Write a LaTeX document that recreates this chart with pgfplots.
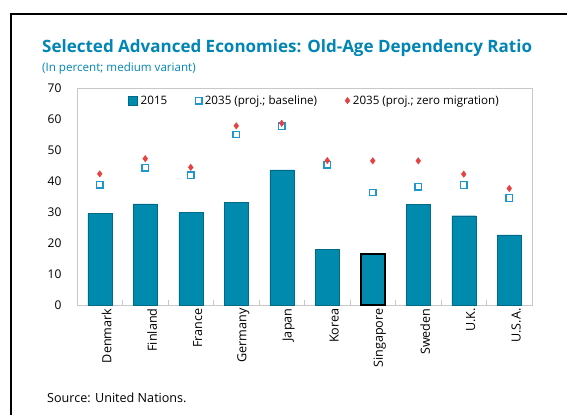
\documentclass[border=0pt]{standalone}
\usepackage{pgfplots}
\pgfplotsset{compat=1.18}
\usepackage{fontspec}
\setmainfont{Open Sans}
\definecolor{titleblue}{RGB}{0,133,180}
\definecolor{barteal}{RGB}{0,139,174}
\definecolor{baredge}{RGB}{0,105,135}
\definecolor{sqblue}{RGB}{30,150,210}
\definecolor{dred}{RGB}{230,64,64}
\definecolor{axgray}{RGB}{200,200,200}
\pgfplotsset{markleg/.style={legend image code/.code={\draw[##1] plot coordinates {(4pt,0pt)};}}}
\begin{document}
\begin{tikzpicture}
\useasboundingbox (0,0) rectangle (567pt,415pt);
\draw[black, line width=2pt] (11pt,0pt) -- (11pt,401pt) -- (567pt,401pt);
\node[anchor=base west, inner sep=0pt, text=titleblue, font=\fontsize{17}{20}\selectfont\bfseries] at (42pt,362pt) {Selected Advanced Economies: Old-Age Dependency Ratio};
\node[anchor=base west, inner sep=0pt, text=titleblue, font=\fontsize{11.6}{13}\selectfont] at (42pt,343pt) {(In percent; medium variant)};
\node[anchor=base west, inner sep=0pt, font=\fontsize{12.6}{14}\selectfont] at (47pt,13pt) {Source: United Nations.};
\begin{axis}[
  at={(77pt,110pt)}, anchor=south west,
  scale only axis, width=455pt, height=217pt,
  xmin=-0.5, xmax=9.5, ymin=0, ymax=70,
  ytick={0,10,...,70},
  xtick={0,...,9},
  xticklabels={Denmark,Finland,France,Germany,Japan,Korea,Singapore,Sweden,U.K.,U.S.A.},
  minor xtick={0.5,1.5,...,8.5},
  major x tick style={draw=none},
  minor x tick style={axgray},
  minor tick length=5pt,
  tick align=inside,
  xtick pos=bottom,
  ytick style={draw=none},
  axis line style={axgray},
  /pgf/number format/assume math mode=true,
  tick label style={font=\fontsize{12}{14}\selectfont},
  yticklabel style={xshift=-12pt},
  xticklabel style={rotate=90, anchor=east, font=\fontsize{12.6}{14}\selectfont, yshift=-7pt},
  legend columns=3,
  legend style={draw=none, fill=none, at={(0.522,0.985)}, anchor=north, font=\fontsize{11.6}{14}\selectfont,
    /tikz/every even column/.append style={column sep=26pt},
    /tikz/every odd column/.append style={column sep=1pt}},
  legend cell align=left,
]
\addplot[ybar, bar shift=0pt, bar width=24pt, fill=barteal, draw=baredge, line width=0.4pt,
  legend image code/.code={\draw[fill=barteal, draw=baredge] (0pt,-4.5pt) rectangle (9pt,4.5pt);}]
  coordinates {(0,29.6) (1,32.6) (2,29.9) (3,33.0) (4,43.6) (5,17.9) (6,16.5) (7,32.5) (8,28.8) (9,22.6)};
\addlegendentry{2015}
\addplot[ybar, bar shift=0pt, bar width=24pt, fill=barteal, draw=black, line width=1.6pt, forget plot]
  coordinates {(6,16.5)};
\addplot[only marks, mark=square*, mark size=3.3pt, mark options={fill=white, draw=sqblue, line width=1.3pt}, markleg]
  coordinates {(0,38.8) (1,44.3) (2,41.8) (3,55.0) (4,57.6) (5,45.3) (6,36.3) (7,38.2) (8,38.7) (9,34.5)};
\addlegendentry{2035 (proj.; baseline)}
\addplot[only marks, mark=diamond*, mark size=3.2pt, mark options={fill=dred, draw=dred}, markleg]
  coordinates {(0,42.3) (1,47.2) (2,44.4) (3,57.8) (4,58.6) (5,46.6) (6,46.5) (7,46.5) (8,42.2) (9,37.6)};
\addlegendentry{2035 (proj.; zero migration)}
\end{axis}
\end{tikzpicture}
\end{document}
